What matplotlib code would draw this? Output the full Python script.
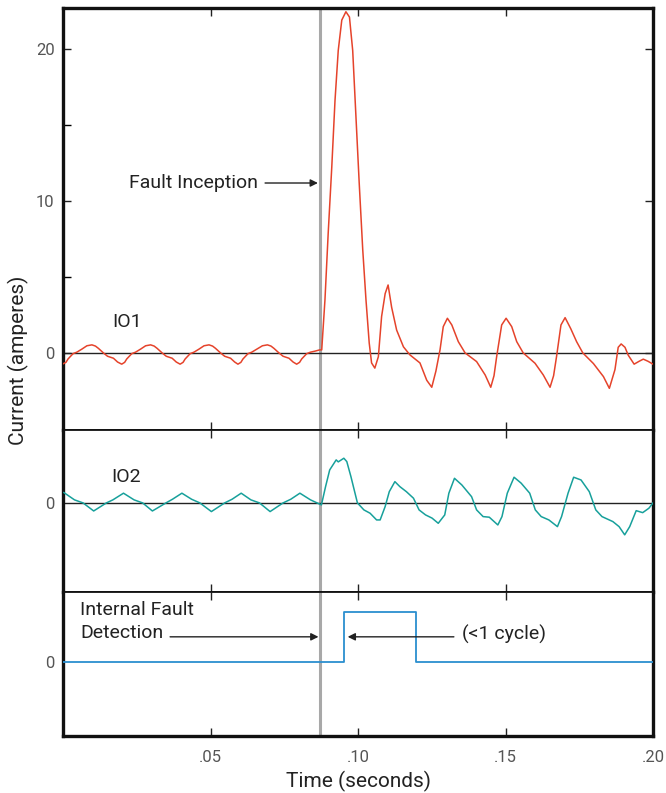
import matplotlib.pyplot as plt
from matplotlib.ticker import FixedLocator

plt.rcParams['font.family'] = ['Roboto', 'DejaVu Sans']

# IO1 current (seconds, amperes)
t_io1 = [0.0000, 0.0010, 0.0017, 0.0034, 0.0047, 0.0064, 0.0081, 0.0098, 0.0110, 0.0120, 0.0137, 0.0151, 0.0171, 0.0185,
         0.0199, 0.0209, 0.0216, 0.0233, 0.0246, 0.0263, 0.0280, 0.0297, 0.0309, 0.0319, 0.0336, 0.0350, 0.0370, 0.0384,
         0.0397, 0.0407, 0.0414, 0.0431, 0.0444, 0.0461, 0.0478, 0.0495, 0.0507, 0.0517, 0.0534, 0.0548, 0.0568, 0.0582,
         0.0593, 0.0603, 0.0610, 0.0627, 0.0640, 0.0657, 0.0676, 0.0693, 0.0705, 0.0715, 0.0732, 0.0746, 0.0766, 0.0780,
         0.0792, 0.0802, 0.0809, 0.0826, 0.0839, 0.0855, 0.0870,
         0.0877, 0.0888, 0.0899, 0.0911, 0.0922, 0.0933, 0.0945, 0.0959, 0.0971, 0.0982, 0.0993, 0.1004, 0.1016,
         0.1027, 0.1038, 0.1046, 0.1057, 0.1069, 0.1080, 0.1092, 0.1102, 0.1114, 0.1131, 0.1154, 0.1176, 0.1210,
         0.1233, 0.1250, 0.1264, 0.1278, 0.1289, 0.1303, 0.1318, 0.1340, 0.1363, 0.1402, 0.1431, 0.1450, 0.1461,
         0.1470, 0.1487, 0.1502, 0.1521, 0.1538, 0.1560, 0.1600, 0.1628, 0.1651, 0.1663, 0.1673, 0.1688, 0.1702,
         0.1721, 0.1741, 0.1762, 0.1798, 0.1832, 0.1852, 0.1871, 0.1882, 0.1892, 0.1905, 0.1916, 0.1936, 0.1953,
         0.1967, 0.1983, 0.2000]
i_io1 = [-0.72, -0.62, -0.40, -0.05, 0.05, 0.25, 0.47, 0.53, 0.45, 0.30, 0.00, -0.22, -0.35, -0.60,
         -0.74, -0.62, -0.40, -0.05, 0.05, 0.25, 0.47, 0.53, 0.45, 0.30, 0.00, -0.22, -0.35, -0.60,
         -0.74, -0.62, -0.40, -0.05, 0.05, 0.25, 0.47, 0.53, 0.45, 0.30, 0.00, -0.22, -0.35, -0.60,
         -0.74, -0.62, -0.40, -0.05, 0.05, 0.25, 0.47, 0.53, 0.45, 0.30, 0.00, -0.22, -0.35, -0.60,
         -0.74, -0.62, -0.40, -0.05, 0.05, 0.12, 0.20,
         0.2, 3.5, 7.9, 12.2, 16.6, 19.9, 21.9, 22.45, 22.1, 19.9, 15.5, 11.2, 6.8,
         3.5, 0.65, -0.66, -1.0, -0.25, 2.4, 3.9, 4.47, 3.0, 1.5, 0.4, -0.13, -0.66,
         -1.8, -2.26, -1.2, 0.2, 1.73, 2.28, 1.84, 0.74, 0.0, -0.57, -1.45, -2.26, -1.5,
         -0.24, 1.84, 2.28, 1.73, 0.74, 0.0, -0.68, -1.45, -2.26, -1.5, -0.24, 1.84, 2.32,
         1.6, 0.74, 0.0, -0.7, -1.56, -2.33, -1.1, 0.37, 0.59, 0.37, -0.15, -0.74, -0.55,
         -0.41, -0.55, -0.74]

# IO2 current
t_io2 = [0.0003, 0.0039, 0.0068, 0.0104, 0.0147, 0.0169, 0.0205, 0.0241, 0.0270, 0.0303, 0.0349, 0.0371,
         0.0403, 0.0436, 0.0464, 0.0503, 0.0548, 0.0573, 0.0604, 0.0637, 0.0666, 0.0702, 0.0746, 0.0772,
         0.0803, 0.0839, 0.0876, 0.0890, 0.0904, 0.0926, 0.0933, 0.0952, 0.0962, 0.0976, 0.0998, 0.1020,
         0.1041, 0.1063, 0.1075, 0.1092, 0.1106, 0.1125, 0.1142, 0.1164, 0.1188, 0.1207, 0.1229, 0.1251,
         0.1272, 0.1294, 0.1308, 0.1327, 0.1352, 0.1385, 0.1402, 0.1424, 0.1445, 0.1474, 0.1488, 0.1506,
         0.1529, 0.1553, 0.1582, 0.1601, 0.1621, 0.1647, 0.1676, 0.1690, 0.1712, 0.1731, 0.1756, 0.1784,
         0.1806, 0.1827, 0.1864, 0.1885, 0.1904, 0.1921, 0.1943, 0.1965, 0.1986, 0.2000]
i_io2 = [0.68, 0.2, 0.0, -0.53, 0.0, 0.2, 0.64, 0.2, 0.0, -0.53, 0.0, 0.24,
         0.64, 0.24, 0.0, -0.57, 0.0, 0.24, 0.64, 0.2, 0.0, -0.57, 0.0, 0.24,
         0.64, 0.2, -0.13, 1.07, 2.17, 2.83, 2.7, 2.94, 2.72, 1.73, 0.0, -0.46,
         -0.68, -1.12, -1.12, -0.24, 0.74, 1.4, 1.07, 0.74, 0.31, -0.46, -0.79, -1.0,
         -1.34, -0.79, 0.64, 1.62, 1.18, 0.41, -0.46, -0.9, -0.94, -1.45, -0.9, 0.64,
         1.69, 1.3, 0.64, -0.46, -0.9, -1.12, -1.56, -0.9, 0.64, 1.69, 1.51, 0.74,
         -0.46, -0.9, -1.23, -1.56, -2.1, -1.56, -0.51, -0.64, -0.35, 0.0]

# trip output
t_trip = [0.0, 0.0953, 0.0953, 0.1197, 0.1197, 0.2]
v_trip = [0, 0, 1, 1, 0, 0]

t_fault = 0.0871
x_ticks = [0.05, 0.10, 0.15, 0.20]
x_tick_labels = [".05", ".10", ".15", ".20"]

fig = plt.figure(figsize=(6.66, 7.93), dpi=100)
ax1 = fig.add_axes([0.0946, 0.4578, 0.8859, 0.5322])
ax2 = fig.add_axes([0.0946, 0.2535, 0.8859, 0.2043])
ax3 = fig.add_axes([0.0946, 0.0719, 0.8859, 0.1816])

ax1.plot(t_io1, i_io1, color="#e5432b", lw=1.1, zorder=3)
ax2.plot(t_io2, i_io2, color="#17a09b", lw=1.1, zorder=3)
ax3.plot(t_trip, v_trip, color="#2b8fcf", lw=1.3, zorder=3)

ax1.set_ylim(-5.07, 22.7)
ax2.set_ylim(-5.86, 4.8)
ax3.set_ylim(-1.49, 1.40)

for ax in (ax1, ax2):
    ax.axhline(0, color="#222222", lw=1.0, zorder=2)

for ax in (ax1, ax2, ax3):
    ax.set_xlim(0, 0.2)
    ax.axvline(t_fault, color="#a8a8a8", lw=2.2, zorder=1)
    ax.xaxis.set_major_locator(FixedLocator(x_ticks[:3]))
    ax.tick_params(axis="both", direction="in", length=6, width=1.0, color="#222222",
                   top=True, bottom=True, labelsize=12, labelcolor="#555555", pad=6)
    ax.tick_params(axis="x", labelbottom=False)
    for s in ax.spines.values():
        s.set_color("#111111")
        s.set_linewidth(1.3)
    ax.spines["left"].set_linewidth(2.4)
    ax.spines["right"].set_linewidth(2.4)

ax1.spines["top"].set_linewidth(2.4)
ax3.spines["bottom"].set_linewidth(2.4)

ax1.set_yticks([0, 10, 20])
ax1.set_yticks([5, 15], minor=True)
ax1.tick_params(axis="y", which="both", right=True, direction="in", length=6, width=1.0)
ax1.tick_params(axis="y", which="minor", right=False)
ax2.set_yticks([0])
ax2.tick_params(axis="y", length=0)
ax3.set_yticks([0])
ax3.tick_params(axis="y", length=0)

ax3.set_xticks(x_ticks)
ax3.set_xticklabels(x_tick_labels)
ax3.tick_params(axis="x", labelbottom=True, pad=10)
ax3.set_xlabel("Time (seconds)", fontsize=15, color="#222222", labelpad=4)
fig.text(0.027, 0.546, "Current (amperes)", rotation=90, fontsize=15, color="#222222",
         ha="center", va="center")

txt = dict(fontsize=14, color="#222222")
arrow = dict(arrowstyle="-|>", color="#222222", lw=1.0, mutation_scale=11, shrinkA=0, shrinkB=0)

ax1.text(0.0166, 2.04, "IO1", ha="left", va="center", **txt)
ax1.text(0.0661, 11.2, "Fault Inception", ha="right", va="center", **txt)
ax1.annotate("", xy=(0.0864, 11.18), xytext=(0.0685, 11.18), arrowprops=arrow)

ax2.text(0.0164, 1.71, "IO2", ha="left", va="center", **txt)

ax3.text(0.0058, 1.04, "Internal Fault", ha="left", va="center", **txt)
ax3.text(0.0058, 0.58, "Detection", ha="left", va="center", **txt)
ax3.annotate("", xy=(0.0866, 0.50), xytext=(0.0363, 0.50), arrowprops=arrow)
ax3.text(0.1353, 0.54, "(<1 cycle)", ha="left", va="center", **txt)
ax3.annotate("", xy=(0.0965, 0.50), xytext=(0.1325, 0.50), arrowprops=arrow)

fig.savefig("out.png", dpi=100)
